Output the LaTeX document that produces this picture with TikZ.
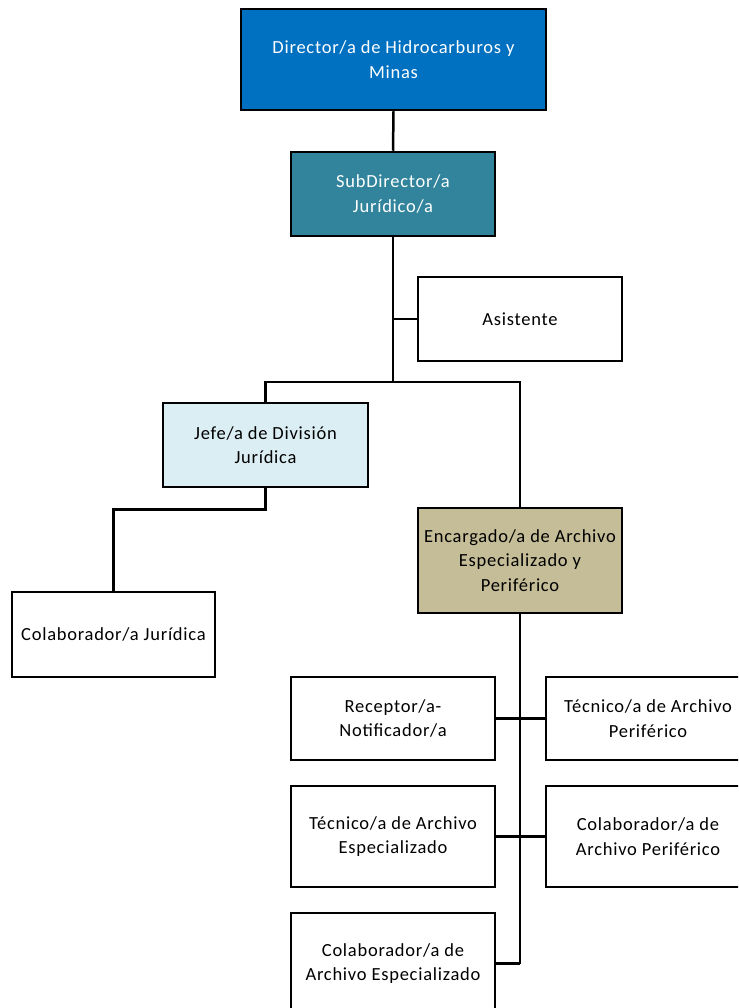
\documentclass[tikz,border=0pt]{standalone}
\usepackage{fontspec}
\setmainfont{Carlito}[LetterSpace=4]
\definecolor{dirblue}{HTML}{0070C0}
\definecolor{subteal}{HTML}{31849B}
\definecolor{jefeblue}{HTML}{DBEEF4}
\definecolor{encbeige}{HTML}{C4BD97}
\begin{document}
\begin{tikzpicture}[x=1pt,y=-1pt,
  box/.style={draw=black, line width=2.5pt, align=center, font=\fontsize{18.5}{24.5}\selectfont, inner sep=0pt, fill=white},
  conn/.style={draw=black, line width=2.5pt},
  ]
\useasboundingbox (0,0) rectangle (738,1008);
\clip (0,0) rectangle (738,1008);
% nodes
\node[box, fill=dirblue, text=white, minimum width=305pt, minimum height=101pt] (dir) at (393.5,59.5) {Director/a de Hidrocarburos y\\Minas};
\node[box, fill=subteal, text=white, minimum width=204pt, minimum height=84pt] (sub) at (393,194) {SubDirector/a\\Jurídico/a};
\node[box, minimum width=204pt, minimum height=84pt] (asis) at (520,319) {Asistente};
\node[box, fill=jefeblue, minimum width=205pt, minimum height=84pt] (jefe) at (265.5,445) {Jefe/a de División\\Jurídica};
\node[box, fill=encbeige, minimum width=204pt, minimum height=105pt] (enc) at (520,560.5) {Encargado/a de Archivo\\Especializado y\\Periférico};
\node[box, minimum width=203pt, minimum height=85pt] (colj) at (113.5,634.5) {Colaborador/a Jurídica};
\node[box, minimum width=204pt, minimum height=83pt] (rec) at (393,718.5) {Receptor/a-\\Notificador/a};
\node[box, minimum width=204pt, minimum height=83pt] (tper) at (648,718.5) {Técnico/a de Archivo\\Periférico};
\node[box, minimum width=204pt, minimum height=101pt] (tesp) at (393,836.5) {Técnico/a de Archivo\\Especializado};
\node[box, minimum width=204pt, minimum height=101pt] (cper) at (648,836.5) {Colaborador/a de\\Archivo Periférico};
\node[box, minimum width=204pt, minimum height=101pt] (cesp) at (393,963.5) {Colaborador/a de\\Archivo Especializado};
% coordinates
\coordinate (br) at (393,382);
\coordinate (asisj) at (393,319);
\coordinate (encbot) at (520,963.5);
% connectors
\draw[conn] (dir.south) -- (sub.north);
\draw[conn] (sub.south) -- (br);
\draw[conn] (asisj) -- (asis.west);
\draw[conn] (jefe.north) |- (br) -| (enc.north);
\draw[conn] (jefe.south) -- ++(0,21) -| (colj.north);
\draw[conn] (enc.south) -- (encbot);
\draw[conn] (rec.east) -- (tper.west);
\draw[conn] (tesp.east) -- (cper.west);
\draw[conn] (cesp.east) -- (encbot);
\end{tikzpicture}
\end{document}
